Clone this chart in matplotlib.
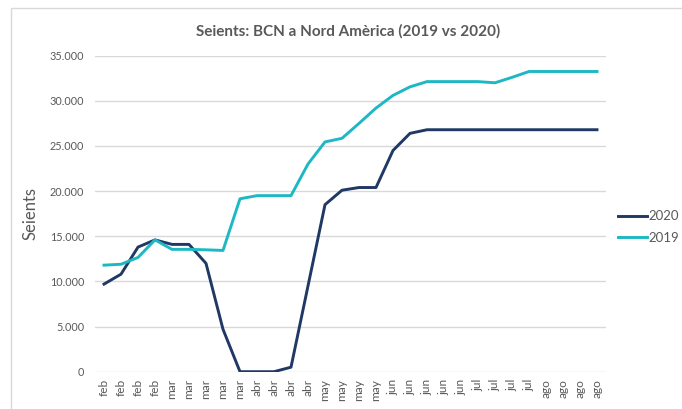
import matplotlib
matplotlib.use("Agg")
import matplotlib.pyplot as plt
from matplotlib.ticker import FuncFormatter, MultipleLocator
from matplotlib.patches import Rectangle

plt.rcParams['font.family'] = ['Lato', 'DejaVu Sans']

# x categories (one per week)
labels = (["feb"] * 4 + ["mar"] * 5 + ["abr"] * 4 + ["may"] * 4 +
          ["jun"] * 5 + ["jul"] * 4 + ["ago"] * 4)

seats_2020 = [9700, 10800, 13800, 14600, 14100, 14100, 12000, 4700, 0, 0,
              0, 500, 9500, 18500, 20100, 20400, 20400, 24500, 26400, 26800,
              26800, 26800, 26800, 26800, 26800, 26800, 26800, 26800, 26800, 26800]
seats_2019 = [11800, 11900, 12650, 14600, 13550, 13550, 13500, 13430, 19150, 19500,
              19500, 19500, 23000, 25450, 25850, 27500, 29200, 30600, 31550, 32130,
              32130, 32130, 32130, 32000, 32600, 33250, 33250, 33250, 33250, 33250]

grey = "#595959"
navy = "#203864"
teal = "#1DB8C4"

fig = plt.figure(figsize=(6.82, 4.09), dpi=100)
# light outer frame of the chart object
fig.patches.append(Rectangle((11 / 682, -0.05), 1.0, 1 - 8 / 409 + 0.05,
                             transform=fig.transFigure, fill=False,
                             edgecolor="#D9D9D9", lw=1.0))

ax = fig.add_axes([95.5 / 682, 1 - 371.7 / 409, 510 / 682, 316 / 409])
x = list(range(len(labels)))
ax.plot(x, seats_2020, color=navy, lw=2.1, label="2020", solid_joinstyle="round")
ax.plot(x, seats_2019, color=teal, lw=2.1, label="2019", solid_joinstyle="round")

ax.set_xlim(-0.5, len(labels) - 0.5)
ax.set_ylim(0, 35000)
ax.yaxis.set_major_locator(MultipleLocator(5000))
ax.yaxis.set_major_formatter(FuncFormatter(lambda v, p: f"{int(v):,}".replace(",", ".")))
ax.grid(axis="y", color="#D9D9D9", lw=1.0)
ax.set_axisbelow(True)
for s in ax.spines.values():
    s.set_visible(False)

ax.set_xticks(x)
ax.set_xticklabels(labels, rotation=90)
ax.tick_params(axis="both", length=0, colors=grey, labelsize=7.8)
ax.tick_params(axis="y", pad=8)
ax.tick_params(axis="x", pad=5, labelsize=8.6)

ax.set_ylabel("Seients", color=grey, fontsize=12)
ax.yaxis.set_label_coords(-0.112, 0.50)

fig.text(0.511, 1 - 31 / 409, "Seients: BCN a Nord Amèrica (2019 vs 2020)",
         ha="center", va="center", fontsize=11, fontweight="bold", color=grey)

leg = fig.legend(loc="center left", bbox_to_anchor=(618 / 682, 1 - 227 / 409),
                 frameon=False, fontsize=9.5, handlelength=2.2, handletextpad=0.1,
                 labelspacing=0.7, borderaxespad=0, borderpad=0)
for t in leg.get_texts():
    t.set_color(grey)

fig.savefig("out.png", dpi=100)
